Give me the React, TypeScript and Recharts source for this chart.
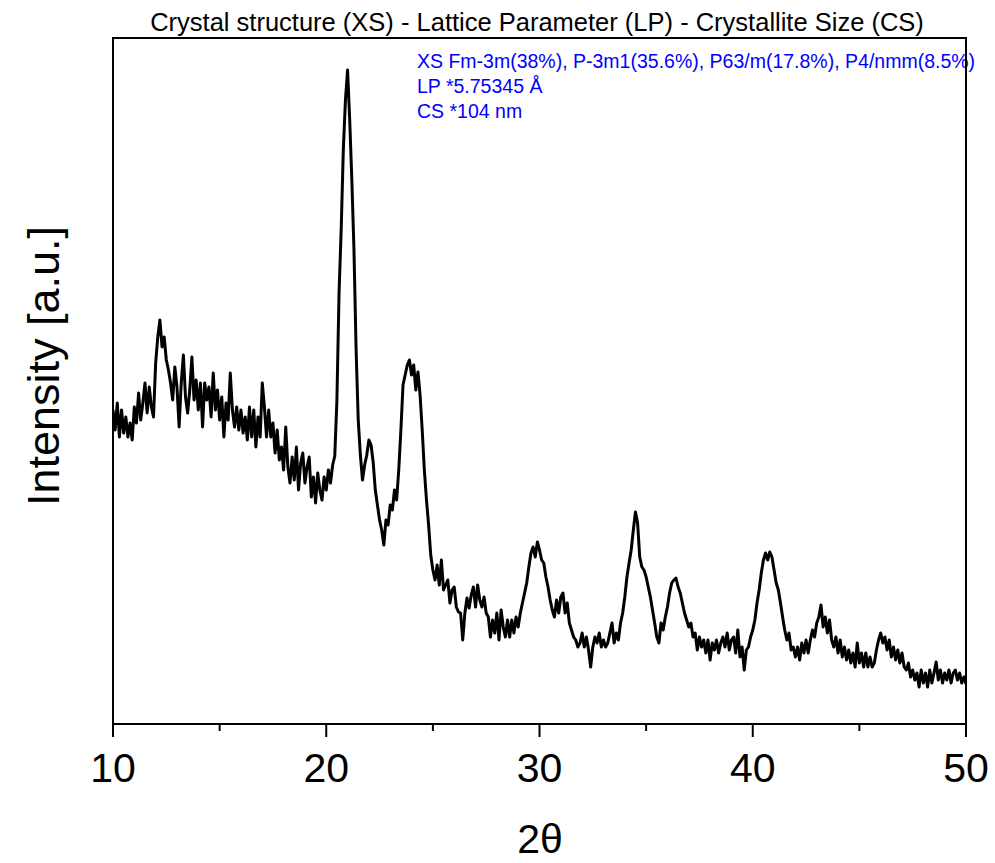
import React from 'react';
import { LineChart, Line, XAxis, YAxis, ReferenceArea } from 'recharts';

// Diffraction scan grid: 10.0° to 50.0° in 0.1° steps
const SCAN_START = 10;
const SCAN_STEP = 0.1;

// Measured intensity (a.u.), one value per scan step
const intensity: number[] = [
  314, 294, 321, 287, 314, 291, 307, 287, 301, 284,
  317, 301, 331, 304, 321, 341, 311, 337, 317, 307,
  361, 387, 404, 377, 387, 364, 354, 341, 324, 357,
  337, 297, 341, 369, 327, 311, 334, 367, 324, 344,
  314, 341, 297, 341, 324, 337, 307, 351, 314, 334,
  304, 327, 287, 321, 304, 351, 314, 297, 317, 294,
  314, 291, 307, 284, 317, 287, 314, 277, 307, 287,
  341, 317, 287, 314, 287, 301, 271, 294, 264, 277,
  254, 297, 257, 241, 267, 244, 277, 234, 261, 271,
  241, 257, 267, 227, 247, 221, 251, 234, 224, 247,
  234, 254, 241, 259, 268, 324, 431, 494, 574, 624,
  654, 604, 544, 474, 374, 304, 269, 244, 259, 269,
  284, 279, 262, 234, 219, 204, 194, 179, 204, 199,
  219, 214, 234, 224, 254, 294, 339, 349, 359, 364,
  349, 359, 334, 352, 329, 294, 254, 224, 199, 169,
  154, 144, 159, 139, 164, 134, 139, 144, 121, 134,
  137, 117, 112, 111, 84, 111, 126, 116, 129, 137,
  117, 139, 124, 117, 127, 111, 107, 87, 104, 91,
  111, 84, 114, 97, 87, 104, 87, 104, 91, 107,
  97, 111, 121, 131, 141, 157, 171, 177, 167, 182,
  174, 164, 161, 147, 137, 124, 114, 107, 124, 111,
  127, 131, 111, 121, 101, 94, 87, 84, 77, 81,
  91, 77, 87, 74, 57, 77, 87, 81, 91, 77,
  84, 77, 81, 91, 101, 81, 91, 84, 101, 111,
  127, 147, 161, 174, 194, 212, 201, 167, 157, 154,
  147, 137, 127, 114, 101, 87, 81, 101, 94, 107,
  117, 131, 141, 144, 146, 137, 131, 121, 111, 104,
  97, 101, 87, 91, 74, 87, 77, 84, 71, 84,
  64, 81, 74, 84, 71, 81, 87, 77, 91, 74,
  84, 87, 71, 94, 67, 77, 54, 74, 77, 87,
  94, 104, 121, 134, 151, 164, 171, 164, 172, 167,
  154, 141, 134, 121, 107, 94, 84, 91, 74, 77,
  67, 77, 64, 81, 71, 84, 71, 84, 94, 87,
  101, 107, 119, 97, 107, 91, 104, 84, 77, 87,
  71, 84, 67, 77, 64, 74, 61, 71, 57, 81,
  61, 71, 57, 71, 57, 67, 57, 61, 74, 84,
  91, 81, 87, 74, 84, 67, 77, 64, 74, 61,
  71, 57, 54, 61, 47, 54, 44, 51, 37, 54,
  41, 51, 37, 54, 41, 51, 62, 44, 54, 41,
  51, 44, 54, 41, 51, 54, 44, 51, 41, 47,
  40,
];

const X_MIN = 10;
const X_MAX = 50;
const Y_MAX = 686;
const majorTicks = [10, 20, 30, 40, 50];
const minorTicks = [15, 25, 35, 45];
const allTicks = [...majorTicks, ...minorTicks].sort((a, b) => a - b);

const chartTitle = 'Crystal structure (XS) - Lattice Parameter (LP) - Crystallite Size (CS)';
const infoLines = [
  'XS Fm-3m(38%), P-3m1(35.6%), P63/m(17.8%), P4/nmm(8.5%)',
  'LP *5.75345 Å',
  'CS *104 nm',
];
const xLabel = '2θ';
const yLabel = 'Intensity [a.u.]';

const data = intensity.map((v, i) => ({
  t: Math.round((SCAN_START + i * SCAN_STEP) * 10) / 10,
  v,
}));

const FONT = '"Liberation Sans", Arial, Helvetica, sans-serif';

const XTick = (props: any) => {
  const { x, y, payload } = props;
  const major = majorTicks.includes(payload.value);
  return (
    <g>
      <line x1={x} y1={y} x2={x} y2={y + (major ? 13 : 7)} stroke="#000" strokeWidth={2} />
      {major && (
        <text x={x} y={y + 58} textAnchor="middle" fontSize={41} fontFamily={FONT} fill="#000">
          {payload.value}
        </text>
      )}
    </g>
  );
};

export default function App() {
  return (
    <div style={{ position: 'absolute', left: 0, top: 0, width: 995, height: 863, background: '#fff' }}>
      <LineChart
        width={995}
        height={863}
        data={data}
        margin={{ top: 38, right: 29, bottom: 79, left: 113 }}
      >
        <XAxis
          dataKey="t"
          type="number"
          domain={[X_MIN, X_MAX]}
          ticks={allTicks}
          interval={0}
          allowDataOverflow
          height={60}
          axisLine={false}
          tickLine={false}
          tickSize={0}
          tickMargin={0}
          tick={<XTick />}
        />
        <YAxis
          type="number"
          domain={[0, Y_MAX]}
          width={0}
          tick={false}
          tickLine={false}
          axisLine={false}
          allowDataOverflow
        />
        <ReferenceArea
          x1={X_MIN}
          x2={X_MAX}
          y1={0}
          y2={Y_MAX}
          fill="none"
          fillOpacity={0}
          stroke="#000"
          strokeWidth={2}
          ifOverflow="visible"
        />
        <Line
          type="linear"
          dataKey="v"
          stroke="#000"
          strokeWidth={3}
          strokeLinejoin="round"
          dot={false}
          activeDot={false}
          isAnimationActive={false}
        />
        <text x={537} y={31} textAnchor="middle" fontSize={25.5} fontFamily={FONT} fill="#000">
          {chartTitle}
        </text>
        {infoLines.map((line, i) => (
          <text key={i} x={417} y={68 + i * 25} fontSize={19.5} fontFamily={FONT} fill="#0000ff">
            {line}
          </text>
        ))}
        <text x={540} y={853} textAnchor="middle" fontSize={41} fontFamily={FONT} fill="#000">
          {xLabel}
        </text>
        <text
          x={59}
          y={366}
          transform="rotate(-90, 59, 366)"
          textAnchor="middle"
          fontSize={45}
          fontFamily={FONT}
          fill="#000"
        >
          {yLabel}
        </text>
      </LineChart>
    </div>
  );
}
